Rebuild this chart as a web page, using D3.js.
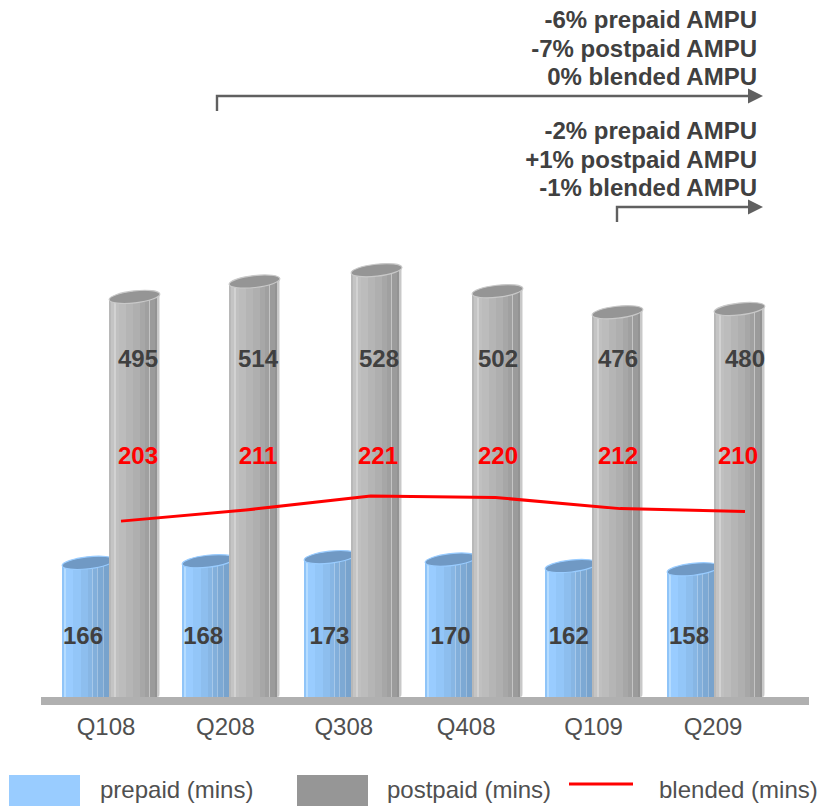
<!DOCTYPE html>
<html>
<head>
<meta charset="utf-8">
<script src="https://cdnjs.cloudflare.com/ajax/libs/d3/7.8.5/d3.min.js"></script>
<style>
  html, body { margin: 0; padding: 0; background: #fff; }
  svg { display: block; }
  text { font-family: "Liberation Sans", Arial, sans-serif; font-size: 24px; }
</style>
</head>
<body>
<svg id="chart" width="817" height="806"></svg>
<script>
// Quarterly minutes of use by subscriber type
const quarters = ["Q108", "Q208", "Q308", "Q408", "Q109", "Q209"];
const prepaid  = [166, 168, 173, 170, 162, 158];
const postpaid = [495, 514, 528, 502, 476, 480];
const blended  = [203, 211, 221, 220, 212, 210];

const longRangeNotes  = ["-6% prepaid AMPU", "-7% postpaid AMPU", "0% blended AMPU"];
const shortRangeNotes = ["-2% prepaid AMPU", "+1% postpaid AMPU", "-1% blended AMPU"];
const legendLabels = ["prepaid (mins)", "postpaid (mins)", "blended (mins)"];

// Hand-placed label adjustments, in pixels, per quarter
const axisLabelShift = [0, -2, -5, -4, 2, 0];
const prepaidLabelShift = [0, -1, 4, 4, 1, 0];
const postpaidLabelShift = [0, 0, 1, 0, 0, 7];
const barShift = [0, -1, 0, 0, -1, 0];

const FONT_DARK = "#404040";
const svg = d3.select("#chart");
const defs = svg.append("defs");

// Layout scales
const baseY = 697;
const y = d3.scaleLinear().domain([0, 600]).range([baseY, 212]);
const yBlended = d3.scaleLinear().domain([0, 400]).range([803.3, 247.3]);
const barX = d3.scalePoint().domain(quarters).range([62, 667]);
const lineX = d3.scalePoint().domain(quarters).range([121, 745]);
const prepaidLabelX = d3.scalePoint().domain(quarters).range([83, 689]);
const postpaidLabelX = d3.scalePoint().domain(quarters).range([138, 738]);
const axisLabelX = d3.scalePoint().domain(quarters).range([106, 713]);

// Faceted shading across a cylinder, as [start offset, colour] bands
function bandedGradient(id, bands) {
  const g = defs.append("linearGradient").attr("id", id)
    .attr("x1", 0).attr("x2", 1).attr("y1", 0).attr("y2", 0);
  bands.forEach(([start, colour], i) => {
    const end = i + 1 < bands.length ? bands[i + 1][0] : 1;
    g.append("stop").attr("offset", start).attr("stop-color", colour);
    g.append("stop").attr("offset", end).attr("stop-color", colour);
  });
}

bandedGradient("greyBody", [
  [0, "#b8b8b8"], [0.04, "#c4c4c4"], [0.09, "#d2d2d2"], [0.13, "#c0c0c0"],
  [0.2, "#bcbcbc"], [0.34, "#b5b5b5"], [0.47, "#afafaf"], [0.6, "#a7a7a7"],
  [0.7, "#a0a0a0"], [0.78, "#c4c4c4"], [0.8, "#9b9b9b"], [0.9, "#939393"],
  [0.95, "#c8c8c8"], [0.98, "#e4e4e4"]
]);
bandedGradient("blueBody", [
  [0, "#8fc4f8"], [0.04, "#b5dcff"], [0.07, "#99ccff"], [0.22, "#93c6f8"],
  [0.36, "#8dbeee"], [0.5, "#87b6e4"], [0.58, "#a6c8ea"], [0.6, "#82afdb"],
  [0.67, "#a2c2e2"], [0.69, "#7da9d4"], [0.79, "#9dbcdb"], [0.81, "#78a3cd"],
  [1, "#78a3cd"]
]);

// One slightly tilted cylinder standing on the baseline
function drawCylinders(values, xOffset, width, body, cap, rim) {
  const tilt = -6.5 * Math.PI / 180;
  const rx = width / 2, ry = 6;
  const g = svg.append("g");
  quarters.forEach((q, i) => {
    const left = barX(q) + barShift[i] + xOffset, right = left + width;
    const cx = left + rx, top = y(values[i]);
    const dy = Math.sin(tilt) * rx;
    g.append("path")
      .attr("d", `M${left},${top - dy}L${left},${baseY}L${right - 3},${baseY}Q${right},${baseY} ${right},${baseY - 4}L${right},${top + dy}Z`)
      .attr("fill", `url(#${body})`);
    g.append("ellipse")
      .attr("cx", 0).attr("cy", 0).attr("rx", rx).attr("ry", ry)
      .attr("transform", `translate(${cx},${top}) rotate(${tilt * 180 / Math.PI})`)
      .attr("fill", cap).attr("stroke", rim).attr("stroke-width", 1.2);
  });
}

drawCylinders(prepaid, 0, 52, "blueBody", "#7099c4", "#99ccff");
drawCylinders(postpaid, 47, 51, "greyBody", "#959595", "#c9c9c9");

// Baseline slab
svg.append("rect").attr("x", 41).attr("y", baseY).attr("width", 768).attr("height", 8).attr("fill", "#b0b0b0");

// Blended trend line
svg.append("path")
  .datum(blended)
  .attr("d", d3.line().x((d, i) => lineX(quarters[i])).y(d => yBlended(d)))
  .attr("fill", "none").attr("stroke", "#ff0000").attr("stroke-width", 3);

// Value labels sit at fixed heights rather than following the marks
function valueLabels(values, xScale, shift, baseline, colour) {
  svg.append("g").selectAll("text").data(values).join("text")
    .attr("x", (d, i) => xScale(quarters[i]) + shift[i])
    .attr("y", baseline)
    .attr("text-anchor", "middle")
    .attr("font-weight", "bold")
    .attr("fill", colour)
    .text(d => d);
}
valueLabels(prepaid, prepaidLabelX, prepaidLabelShift, 644, FONT_DARK);
valueLabels(postpaid, postpaidLabelX, postpaidLabelShift, 367, FONT_DARK);
valueLabels(blended, postpaidLabelX, [0, 0, 0, 0, 0, 0], 464, "#ff0000");

// Category labels
svg.append("g").selectAll("text").data(quarters).join("text")
  .attr("x", (d, i) => axisLabelX(d) + axisLabelShift[i]).attr("y", 735)
  .attr("text-anchor", "middle").attr("fill", "#505050").text(d => d);

// Period-on-period notes with their elbow arrows
function periodNote(lines, firstBaseline, startX, stemBottom, arrowY) {
  const g = svg.append("g");
  g.selectAll("text").data(lines).join("text")
    .attr("x", 757).attr("y", (d, i) => firstBaseline + i * 28.7)
    .attr("text-anchor", "end").attr("font-weight", "bold")
    .attr("fill", FONT_DARK).text(d => d);
  g.append("path")
    .attr("d", `M${startX},${stemBottom}V${arrowY}H750`)
    .attr("fill", "none").attr("stroke", "#606060").attr("stroke-width", 2.4);
  g.append("path")
    .attr("d", `M763,${arrowY}L748,${arrowY - 7.5}V${arrowY + 7.5}Z`)
    .attr("fill", "#606060");
}
periodNote(longRangeNotes, 28, 217, 111, 96);
periodNote(shortRangeNotes, 139, 617, 222, 207);

// Legend
const legend = svg.append("g");
legend.append("rect").attr("x", 9).attr("y", 775).attr("width", 71).attr("height", 31).attr("fill", "#99ccff");
legend.append("rect").attr("x", 297).attr("y", 775).attr("width", 71).attr("height", 31).attr("fill", "#969696");
legend.append("line").attr("x1", 569).attr("x2", 633).attr("y1", 784).attr("y2", 784)
  .attr("stroke", "#ff0000").attr("stroke-width", 3);
legend.selectAll("text").data(legendLabels).join("text")
  .attr("x", (d, i) => [100, 387, 659][i]).attr("y", 798)
  .attr("fill", "#505050").text(d => d);
</script>
</body>
</html>
